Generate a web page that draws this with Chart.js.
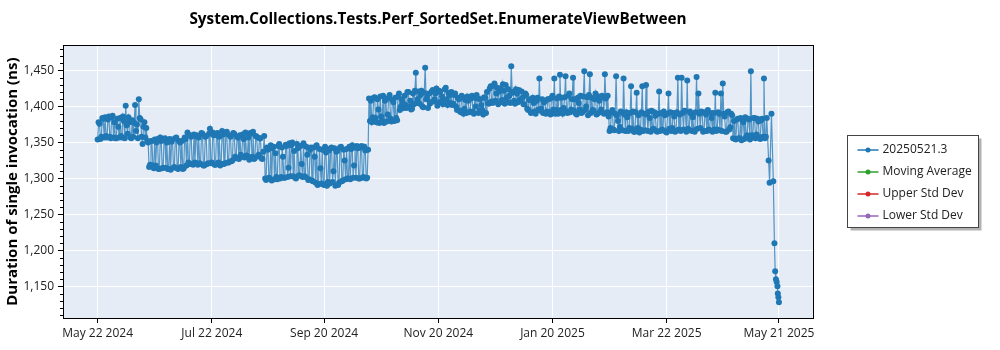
<!DOCTYPE html>
<html>
<head>
<meta charset="utf-8">
<script src="https://cdn.jsdelivr.net/npm/chart.js@4.4.1/dist/chart.umd.min.js"></script>
<style>
  html, body { margin: 0; padding: 0; background: #fff; }
</style>
</head>
<body>
<canvas id="perfChart" width="1000" height="350"></canvas>
<script>
const firstRunDate = "2024-05-22";

// morning run of each day, starting at firstRunDate
const morningDurations = [
  1354, 1376, 1358, 1383, 1385, 1357, 1386, 1356, 1387, 1378,
  1356, 1372, 1384, 1357, 1380, 1401, 1362, 1378, 1356, 1358,
  1402, 1375, 1410, 1382, 1348, 1378, 1370, 1350, 1319, 1352,
  1314, 1318, 1355, 1313, 1352, 1315, 1356, 1350, 1313, 1312,
  1354, 1316, 1357, 1313, 1350, 1352, 1314, 1355, 1364, 1320,
  1358, 1319, 1322, 1360, 1357, 1320, 1362, 1318, 1359, 1321,
  1369, 1322, 1360, 1319, 1363, 1358, 1320, 1361, 1321, 1365,
  1322, 1358, 1325, 1362, 1328, 1357, 1360, 1330, 1355, 1364,
  1331, 1326, 1362, 1365, 1328, 1358, 1333, 1356, 1327, 1359,
  1298, 1340, 1300, 1297, 1344, 1335, 1299, 1348, 1302, 1330,
  1301, 1345, 1315, 1303, 1350, 1338, 1300, 1342, 1304, 1320,
  1349, 1302, 1333, 1299, 1343, 1296, 1330, 1346, 1292, 1314,
  1340, 1291, 1336, 1295, 1293, 1343, 1310, 1290, 1338, 1294,
  1344, 1297, 1325, 1341, 1300, 1299, 1346, 1318, 1301, 1342,
  1300, 1345, 1302, 1339, 1301, 1411, 1408, 1385, 1413, 1378,
  1396, 1414, 1380, 1377, 1410, 1389, 1416, 1379, 1406, 1412,
  1381, 1418, 1400, 1405, 1415, 1398, 1420, 1408, 1397, 1403,
  1447, 1410, 1404, 1422, 1399, 1454, 1412, 1418, 1406, 1423,
  1410, 1425, 1405, 1420, 1414, 1408, 1426, 1402, 1416, 1420,
  1404, 1418, 1395, 1410, 1392, 1413, 1397, 1391, 1408, 1393,
  1415, 1390, 1400, 1411, 1394, 1402, 1389, 1412, 1420, 1404,
  1428, 1405, 1432, 1418, 1403, 1425, 1409, 1422, 1430, 1406,
  1415, 1456, 1420, 1404, 1418, 1423, 1408, 1412, 1403, 1416,
  1395, 1410, 1392, 1405, 1390, 1412, 1439, 1397, 1391, 1408,
  1393, 1410, 1389, 1415, 1439, 1395, 1390, 1444, 1412, 1398,
  1442, 1391, 1418, 1396, 1440, 1410, 1389, 1405, 1415, 1392,
  1449, 1400, 1388, 1445, 1412, 1394, 1418, 1390, 1408, 1396,
  1413, 1445, 1392, 1386, 1370, 1395, 1367, 1442, 1380, 1372,
  1392, 1439, 1366, 1385, 1370, 1428, 1393, 1365, 1419, 1388,
  1368, 1428, 1390, 1430, 1366, 1384, 1394, 1369, 1387, 1365,
  1421, 1391, 1367, 1388, 1364, 1418, 1392, 1370, 1386, 1366,
  1440, 1389, 1440, 1368, 1393, 1436, 1367, 1390, 1385, 1365,
  1441, 1418, 1370, 1392, 1366, 1389, 1395, 1367, 1384, 1391,
  1419, 1368, 1390, 1418, 1432, 1386, 1365, 1393, 1371, 1388,
  1380, 1354, 1383, 1356, 1353, 1378, 1385, 1360, 1382, 1449,
  1357, 1384, 1361, 1379, 1355, 1383, 1439, 1358
];

// second run of each day, half a day later
const afternoonDurations = [
  1378, 1355, 1384, 1357, 1359, 1382, 1358, 1385, 1357, 1356,
  1383, 1357, 1359, 1386, 1356, 1374, 1385, 1357, 1381, 1377,
  1366, 1356, 1384, 1358, 1372, 1357, 1352, 1316, 1352, 1318,
  1354, 1350, 1313, 1357, 1314, 1353, 1315, 1313, 1355, 1351,
  1315, 1356, 1314, 1352, 1316, 1313, 1357, 1318, 1322, 1360,
  1320, 1361, 1359, 1319, 1321, 1363, 1318, 1358, 1320, 1362,
  1321, 1364, 1319, 1360, 1322, 1318, 1366, 1320, 1362, 1322,
  1360, 1324, 1363, 1330, 1358, 1327, 1333, 1361, 1329, 1332,
  1357, 1363, 1330, 1327, 1359, 1331, 1356, 1328, 1337, 1300,
  1343, 1301, 1346, 1342, 1299, 1302, 1345, 1300, 1343, 1301,
  1347, 1302, 1349, 1346, 1303, 1301, 1348, 1304, 1345, 1302,
  1303, 1344, 1298, 1340, 1297, 1343, 1294, 1291, 1341, 1293,
  1292, 1344, 1290, 1339, 1342, 1295, 1342, 1337, 1291, 1343,
  1296, 1340, 1299, 1300, 1344, 1341, 1301, 1343, 1345, 1300,
  1343, 1301, 1344, 1300, 1340, 1380, 1378, 1412, 1384, 1410,
  1377, 1386, 1415, 1408, 1379, 1412, 1383, 1409, 1380, 1384,
  1414, 1395, 1410, 1398, 1402, 1420, 1400, 1396, 1418, 1422,
  1405, 1421, 1416, 1400, 1419, 1410, 1398, 1404, 1421, 1407,
  1418, 1401, 1422, 1407, 1403, 1424, 1410, 1419, 1405, 1402,
  1416, 1400, 1412, 1394, 1415, 1390, 1409, 1414, 1392, 1411,
  1393, 1412, 1416, 1391, 1410, 1395, 1413, 1391, 1405, 1425,
  1407, 1429, 1408, 1426, 1421, 1406, 1431, 1404, 1412, 1424,
  1405, 1419, 1408, 1424, 1406, 1409, 1421, 1403, 1418, 1397,
  1409, 1391, 1412, 1393, 1408, 1396, 1394, 1410, 1406, 1390,
  1410, 1392, 1412, 1396, 1390, 1411, 1414, 1395, 1390, 1413,
  1393, 1415, 1392, 1410, 1394, 1390, 1412, 1396, 1391, 1414,
  1395, 1413, 1416, 1391, 1395, 1410, 1389, 1414, 1392, 1415,
  1390, 1411, 1415, 1366, 1392, 1368, 1390, 1387, 1366, 1393,
  1367, 1389, 1392, 1366, 1391, 1369, 1365, 1392, 1370, 1364,
  1392, 1366, 1367, 1389, 1393, 1365, 1368, 1392, 1366, 1390,
  1366, 1368, 1393, 1365, 1390, 1369, 1366, 1391, 1365, 1392,
  1368, 1366, 1391, 1394, 1365, 1369, 1393, 1366, 1367, 1392,
  1369, 1390, 1393, 1365, 1392, 1366, 1368, 1391, 1365, 1368,
  1366, 1392, 1367, 1366, 1390, 1365, 1392, 1368, 1390, 1356,
  1355, 1382, 1356, 1384, 1381, 1355, 1358, 1383, 1354, 1360,
  1384, 1356, 1383, 1357, 1381, 1358, 1356, 1384
];

// last few runs came in several times a day
const tailRunDays = [358.5, 359, 360, 361, 361.6, 362, 362.4, 362.8, 363.2, 363.4, 363.7, 364];
const tailDurations = [1325, 1294, 1390, 1296, 1210, 1171, 1160, 1156, 1150, 1140, 1135, 1128];

const yTickValues = [1150, 1200, 1250, 1300, 1350, 1400, 1450];
const xTickDates = ["2024-05-22", "2024-07-22", "2024-09-20", "2024-11-20", "2025-01-20", "2025-03-22", "2025-05-21"];
const xTickLabels = ["May 22 2024", "Jul 22 2024", "Sep 20 2024", "Nov 20 2024", "Jan 20 2025", "Mar 22 2025", "May 21 2025"];

const seriesNames = ["20250521.3", "Moving Average", "Upper Std Dev", "Lower Std Dev"];
const seriesColors = ["#1f77b4", "#2ca02c", "#d62728", "#9467bd"];

const DAY_MS = 86400000;
const dayOf = (s) => (Date.parse(s + "T00:00:00Z") - Date.parse(firstRunDate + "T00:00:00Z")) / DAY_MS;

const runPoints = [];
morningDurations.forEach((v, i) => {
  runPoints.push({ x: i, y: v });
  runPoints.push({ x: i + 0.5, y: afternoonDurations[i] });
});
tailRunDays.forEach((d, i) => runPoints.push({ x: d, y: tailDurations[i] }));

const FONT = "'Open Sans', 'Noto Sans', sans-serif";
Chart.defaults.font.family = FONT;
Chart.defaults.color = "#000";

// plot background, frame and minor y ticks
const plotFrame = {
  id: "plotFrame",
  beforeDraw(chart) {
    const { ctx, chartArea: a } = chart;
    ctx.save();
    ctx.fillStyle = "#e5ecf6";
    ctx.fillRect(a.left, a.top, a.right - a.left, a.bottom - a.top);
    ctx.restore();
  },
  afterDraw(chart) {
    const { ctx, chartArea: a } = chart;
    const y = chart.scales.y;
    ctx.save();
    ctx.strokeStyle = "#000";
    ctx.lineWidth = 1;
    ctx.strokeRect(Math.round(a.left) + 0.5, Math.round(a.top) + 0.5,
      Math.round(a.right - a.left), Math.round(a.bottom - a.top));
    ctx.beginPath();
    for (let v = Math.ceil(y.min / 10) * 10; v <= y.max; v += 10) {
      if (v % 50 === 0) continue;
      const py = Math.round(y.getPixelForValue(v)) + 0.5;
      ctx.moveTo(a.left - 3, py);
      ctx.lineTo(a.left, py);
    }
    ctx.stroke();
    ctx.restore();
  }
};

// boxed legend to the right of the plot
const boxLegend = {
  id: "boxLegend",
  afterDraw(chart) {
    const { ctx } = chart;
    const left = 847.5, top = 135.5, w = 131, h = 92;
    ctx.save();
    ctx.fillStyle = "rgba(0,0,0,0.3)";
    ctx.fillRect(left + 3, top + 3, w, h);
    ctx.fillStyle = "#fff";
    ctx.fillRect(left, top, w, h);
    ctx.strokeStyle = "#444";
    ctx.lineWidth = 1;
    ctx.strokeRect(left, top, w, h);
    ctx.font = "12px " + FONT;
    ctx.textBaseline = "middle";
    chart.data.datasets.forEach((ds, i) => {
      const cy = top + 14.5 + i * 22;
      ctx.strokeStyle = ds.pointBackgroundColor;
      ctx.lineWidth = 1.5;
      ctx.beginPath();
      ctx.moveTo(left + 10, cy);
      ctx.lineTo(left + 31, cy);
      ctx.stroke();
      ctx.fillStyle = ds.pointBackgroundColor;
      ctx.beginPath();
      ctx.arc(left + 20.5, cy, 2.5, 0, Math.PI * 2);
      ctx.fill();
      ctx.fillStyle = "#222";
      ctx.fillText(ds.label, left + 35, cy);
    });
    ctx.restore();
  }
};

const datasets = seriesNames.map((name, i) => ({
  label: name,
  data: i === 0 ? runPoints : [],
  borderColor: i === 0 ? "rgba(31,119,180,0.75)" : seriesColors[i],
  borderWidth: 1.2,
  pointBackgroundColor: seriesColors[i],
  pointBorderWidth: 0,
  pointRadius: 3,
  tension: 0
}));

new Chart(document.getElementById("perfChart"), {
  type: "line",
  data: { datasets },
  plugins: [plotFrame, boxLegend],
  options: {
    responsive: false,
    devicePixelRatio: 1,
    animation: false,
    layout: { padding: { left: 0, right: 187, top: 0, bottom: 0 } },
    plugins: {
      legend: { display: false },
      tooltip: { enabled: false },
      title: {
        display: true,
        fullSize: false,
        text: "System.Collections.Tests.Perf_SortedSet.EnumerateViewBetween",
        font: { size: 15.3, weight: "bold" },
        color: "#000",
        padding: { top: 10, bottom: 17 }
      }
    },
    scales: {
      x: {
        type: "linear",
        min: -18.5,
        max: 382.2,
        afterBuildTicks: (s) => { s.ticks = xTickDates.map((d) => ({ value: dayOf(d) })); },
        afterFit: (s) => { s.height = 32; },
        ticks: {
          autoSkip: false,
          maxRotation: 0,
          font: { size: 12 },
          color: "#222",
          padding: 3,
          callback: (v, i) => xTickLabels[i]
        },
        grid: { color: "#fff", tickColor: "#000", tickLength: 5 },
        border: { color: "#000" }
      },
      y: {
        min: 1106,
        max: 1485,
        afterBuildTicks: (s) => { s.ticks = yTickValues.map((v) => ({ value: v })); },
        afterFit: (s) => { s.width = 63; },
        ticks: {
          font: { size: 12 },
          color: "#222",
          padding: 4,
          callback: (v) => v.toLocaleString("en-US")
        },
        grid: { color: "#fff", tickColor: "#000", tickLength: 5 },
        border: { color: "#000" },
        title: {
          display: true,
          text: "Duration of single invocation (ns)",
          font: { size: 15, weight: "bold" },
          color: "#000",
          padding: { top: 4, bottom: 4 }
        }
      }
    }
  }
});
</script>
</body>
</html>
